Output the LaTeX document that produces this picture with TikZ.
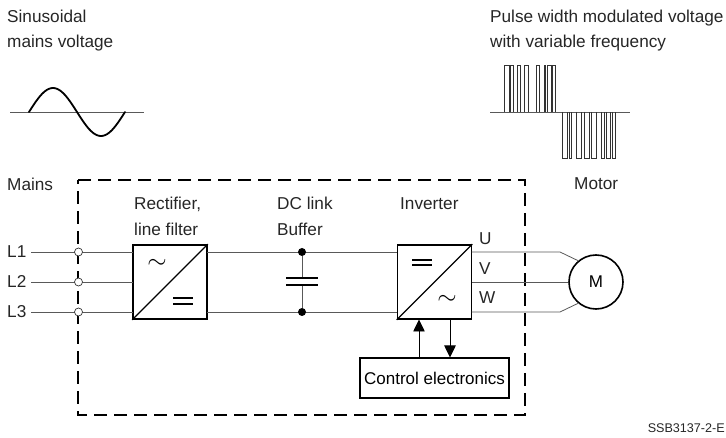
\documentclass[tikz,border=0pt]{standalone}
\usepackage{fontspec}
\setmainfont{Liberation Sans}
\usetikzlibrary{arrows.meta,calc,positioning}
\tikzset{
  lbl/.style={inner sep=0pt, font=\fontsize{17.2}{25.5}\selectfont, text=black!85, align=left},
  conv/.style={rectangle, draw, line width=1.6pt, minimum size=74pt, inner sep=0pt},
  wire/.style={draw=black!65, line width=0.8pt},
  term/.style={circle, draw=black!80, fill=white, line width=0.7pt, minimum size=8pt, inner sep=0pt},
  dotv/.style={circle, fill, minimum size=8pt, inner sep=0pt},
  pulse/.style={draw=black!80, line width=0.7pt},
  every picture/.style={line cap=butt, line join=miter}
}

\begin{document}
\begin{tikzpicture}[x=1pt,y=-1pt]
  \useasboundingbox (0,0) rectangle (726,438);
  % enclosure
  \draw[line width=1.5pt, dash pattern=on 13pt off 7pt] (78,180) -- (525,180) -- (525,415) -- (78,415) -- cycle;

  % texts
  \node[lbl, anchor=base west] (sin) at (7,23) {Sinusoidal};
  \node[lbl, anchor=base west] (sinb) at (7,48) {mains voltage};
  \node[lbl, anchor=base west] (pwm) at (490,23) {Pulse width modulated voltage};
  \node[lbl, anchor=base west] (pwmb) at (490,48) {with variable frequency};
  \node[lbl, anchor=base west] (mains) at (7,191) {Mains};
  \node[lbl, anchor=base west] (motor) at (574,190) {Motor};
  \node[lbl, anchor=base west] (rect) at (134,210) {Rectifier,};
  \node[lbl, anchor=base west] (rectb) at (134,236) {line filter};
  \node[lbl, anchor=base west] (dc) at (277,210) {DC link};
  \node[lbl, anchor=base west] (dcb) at (277,236) {Buffer};
  \node[lbl, anchor=base west] (inv) at (400,210) {Inverter};
  \node[lbl, anchor=east] (tag) at (725,428) {\fontsize{12.6}{14}\selectfont SSB3137-2-E};

  % blocks
  \node[conv] (rectifier) at (170,282) {};
  \node[conv] (inverter) at (434.5,282) {};
  \node[rectangle, draw, line width=1.6pt, minimum width=149pt, minimum height=40pt, inner sep=0pt, font=\fontsize{17}{19}\selectfont] (ctrl) at (434.5,378) {Control electronics};
  \node[circle, draw, line width=1.6pt, minimum size=54pt, inner sep=0pt, font=\fontsize{17}{19}\selectfont] (motorc) at (596,282) {M};
  \draw[line width=1.3pt] (rectifier.south west) -- (rectifier.north east);
  \draw[line width=1.3pt] (inverter.south west) -- (inverter.north east);
  \node[font=\fontsize{31}{31}\selectfont, inner sep=0pt] at (157,264) {$\sim$};
  \node[font=\fontsize{31}{31}\selectfont, inner sep=0pt] at (447,300) {$\sim$};
  \draw[line width=1.2pt] (173,298) -- (193,298) (173,304) -- (193,304);
  \draw[line width=1.2pt] (412,260) -- (432,260) (412,265) -- (432,265);

  % phases
  \node[lbl, anchor=base west] (l1) at (7,258) {L1};
  \node[lbl, anchor=base west] (l2) at (7,288) {L2};
  \node[lbl, anchor=base west] (l3) at (7,318) {L3};
  \foreach \n/\y in {1/252,2/282,3/312}{
    \coordinate (s\n) at (31,\y);
    \coordinate (r\n) at (133,\y);
    \draw[wire] (s\n) -- (r\n);
    \node[term] at (78.5,\y) {};
  }

  % dc link
  \coordinate (ra) at (207,252);
  \coordinate (rb) at (207,312);
  \coordinate (ia) at (397,252);
  \coordinate (ib) at (397,312);
  \draw[wire] (ra) -- (ia);
  \draw[wire] (rb) -- (ib);
  \node[dotv] (da) at (302,252) {};
  \node[dotv] (db) at (302,312) {};
  \coordinate (pa) at (302,278);
  \coordinate (pb) at (302,285);
  \draw[wire] (da) -- (pa);
  \draw[wire] (db) -- (pb);
  \draw[line width=1.6pt] (286,278) -- (318,278) (286,285) -- (318,285);

  % motor side
  \node[lbl, anchor=base west] (u) at (479,245) {U};
  \node[lbl, anchor=base west] (v) at (479,275) {V};
  \node[lbl, anchor=base west] (w) at (479,304) {W};
  \draw[wire] (471.5,252) -- (560,252) -- (motorc.130);
  \draw[wire] (471.5,282) -- (motorc.west);
  \draw[wire] (471.5,312) -- (560,312) -- (motorc.230);

  % control arrows
  \draw[-{Triangle[length=12pt,width=11.5pt]}, line width=0.8pt] (419,358) -- (419,319.5);
  \draw[-{Triangle[length=12pt,width=11.5pt]}, line width=0.8pt] (450,319) -- (450,357.5);

  % waveforms
  \draw[wire] (10,112) -- (144,112);
  \draw[line width=1.8pt, line cap=round, domain=0:360, samples=60, smooth] plot ({29+\x*0.26667},{112-24*sin(\x)});
  \draw[wire] (490,112) -- (630,112);
  \foreach \a/\b in {504.3/509,510.7/513.3,517.3/520,524/528.3,536/539.3,544/545.7,547.3/551,552.3/555.7}
    \draw[pulse] (\a,112) -- (\a,65) -- (\b,65) -- (\b,112);
  \foreach \a/\b in {562.3/567.3,569/571.7,576.7/581,584.3/589.3,591.7/596,601/604.3,606.7/610,612.3/615.7}
    \draw[pulse] (\a,112) -- (\a,158) -- (\b,158) -- (\b,112);
\end{tikzpicture}
\end{document}
